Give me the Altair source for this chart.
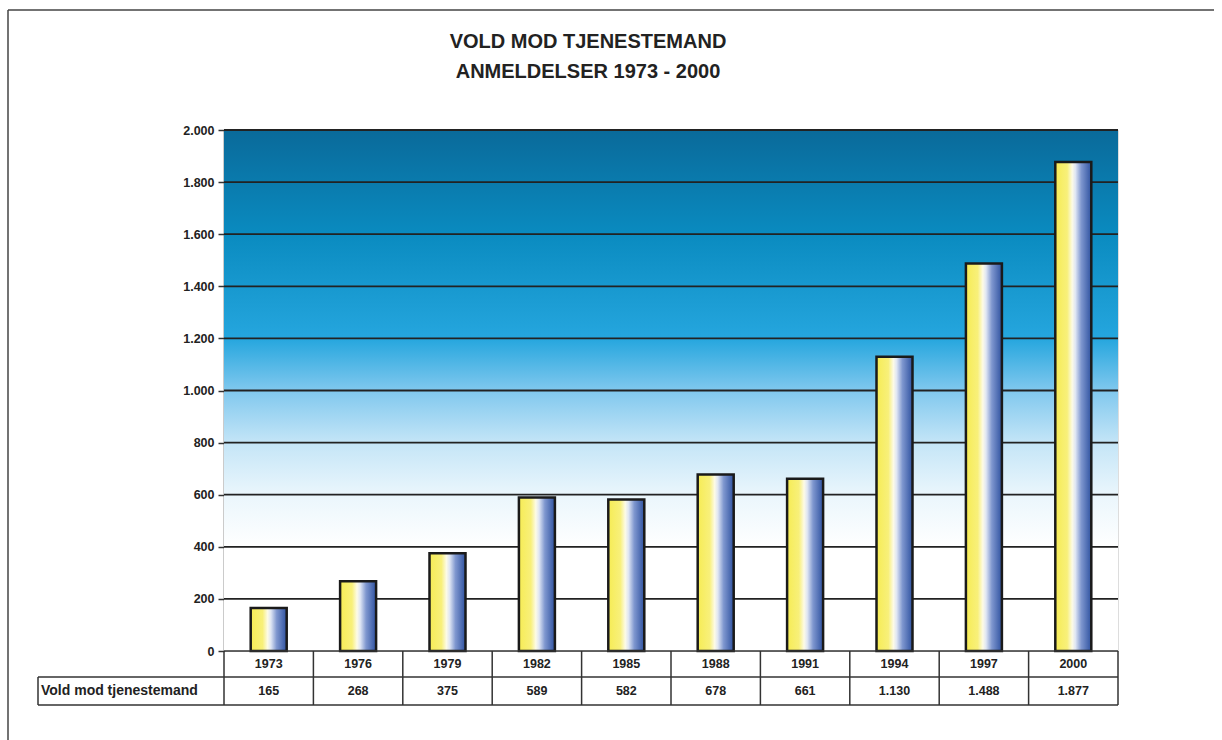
import altair as alt
import pandas as pd

years = ["1973", "1976", "1979", "1982", "1985", "1988", "1991", "1994", "1997", "2000"]
values = [165, 268, 375, 589, 582, 678, 661, 1130, 1488, 1877]
value_labels = ["165", "268", "375", "589", "582", "678", "661", "1.130", "1.488", "1.877"]
title_lines = ["VOLD MOD TJENESTEMAND", "ANMELDELSER 1973 - 2000"]
row_label = "Vold mod tjenestemand"
y_ticks = list(range(0, 2001, 200))

W, H = 894, 521
FONT = "Liberation Sans"

df = pd.DataFrame({"year": years, "value": values, "label": value_labels})

xs = alt.Scale(domain=years, paddingInner=0, paddingOuter=0)
ys = alt.Scale(domain=[0, 2000], nice=False)

y_axis = alt.Axis(
    values=y_ticks,
    labelExpr="replace(format(datum.value, ','), ',', '.')",
    grid=False, domainColor="#333", domainWidth=1.5,
    tickColor="#333", tickSize=6, tickWidth=1.5,
    labelFont=FONT, labelFontWeight="bold", labelFontSize=12.5,
    labelColor="#222", labelPadding=4, title=None,
)

bg_grad = alt.Gradient(
    gradient="linear", x1=0, y1=0, x2=0, y2=1,
    stops=[
        alt.GradientStop(color="#0a6a9a", offset=0),
        alt.GradientStop(color="#0a8bc0", offset=0.2),
        alt.GradientStop(color="#25a6de", offset=0.4),
        alt.GradientStop(color="#80c8ee", offset=0.5),
        alt.GradientStop(color="#c4e5f7", offset=0.6),
        alt.GradientStop(color="#eaf6fc", offset=0.7),
        alt.GradientStop(color="#ffffff", offset=0.8),
        alt.GradientStop(color="#ffffff", offset=1),
    ],
)

bar_grad = alt.Gradient(
    gradient="linear", x1=0, y1=0, x2=1, y2=0,
    stops=[
        alt.GradientStop(color="#f6ec55", offset=0),
        alt.GradientStop(color="#f8f07a", offset=0.33),
        alt.GradientStop(color="#fdfbe6", offset=0.47),
        alt.GradientStop(color="#dfe6f4", offset=0.56),
        alt.GradientStop(color="#7f97cf", offset=0.72),
        alt.GradientStop(color="#2f52a0", offset=1),
    ],
)

base = alt.Chart(df)
one = "datum.year == '1973'"

background = base.mark_rect(fill=bg_grad, strokeWidth=0).encode(
    x=alt.value(0), x2=alt.value(W), y=alt.value(0), y2=alt.value(H)
).transform_filter(one)

grid = alt.Chart(pd.DataFrame({"g": y_ticks[1:]})).mark_rule(
    color="#222", strokeWidth=1.8
).encode(y=alt.Y("g:Q", scale=ys, axis=y_axis), x=alt.value(0), x2=alt.value(W))

bars = base.mark_bar(fill=bar_grad, stroke="#1a1a1a", strokeWidth=2.5, size=36).encode(
    x=alt.X("year:N", scale=xs, axis=None, sort=years),
    y=alt.Y("value:Q", scale=ys, axis=y_axis),
)

# table
vlines = base.mark_rule(color="#333", strokeWidth=1.5).encode(
    x=alt.X("year:N", scale=xs, sort=years, bandPosition=0),
    y=alt.value(H), y2=alt.value(H + 54),
)
vlast = base.mark_rule(color="#333", strokeWidth=1.5).encode(
    x=alt.value(W), y=alt.value(H), y2=alt.value(H + 54)
).transform_filter(one)
hline1 = base.mark_rule(color="#333", strokeWidth=1.5).encode(
    x=alt.value(0), x2=alt.value(W), y=alt.value(H)
).transform_filter(one)
hline2 = base.mark_rule(color="#333", strokeWidth=1.5).encode(
    x=alt.value(-186), x2=alt.value(W), y=alt.value(H + 26)
).transform_filter(one)
hline3 = base.mark_rule(color="#333", strokeWidth=1.5).encode(
    x=alt.value(-186), x2=alt.value(W), y=alt.value(H + 54)
).transform_filter(one)
vleft = base.mark_rule(color="#333", strokeWidth=1.5).encode(
    x=alt.value(-186), y=alt.value(H + 26), y2=alt.value(H + 54)
).transform_filter(one)

year_text = base.mark_text(font=FONT, fontWeight="bold", fontSize=12.5, color="#222").encode(
    x=alt.X("year:N", scale=xs, sort=years, bandPosition=0.5),
    y=alt.value(H + 13), text="year:N",
)
val_text = base.mark_text(font=FONT, fontWeight="bold", fontSize=12.5, color="#222").encode(
    x=alt.X("year:N", scale=xs, sort=years, bandPosition=0.5),
    y=alt.value(H + 40), text="label:N",
)
row_text = base.mark_text(
    font=FONT, fontWeight="bold", fontSize=14, color="#222", align="left"
).encode(x=alt.value(-183), y=alt.value(H + 40), text=alt.value(row_label)).transform_filter(one)

titles = alt.Chart(pd.DataFrame({"t": title_lines, "yy": [-88, -58]})).mark_text(
    font=FONT, fontWeight="bold", fontSize=20, color="#222"
).encode(x=alt.value(364), y=alt.Y("yy:Q", scale=None), text="t:N")

frame_top = base.mark_rule(color="#444", strokeWidth=1.5).encode(
    x=alt.value(-216), x2=alt.value(990), y=alt.value(-120)
).transform_filter(one)
frame_left = base.mark_rule(color="#444", strokeWidth=1.5).encode(
    x=alt.value(-216), y=alt.value(-120), y2=alt.value(620)
).transform_filter(one)

chart = alt.layer(
    background, grid, bars, vlines, vlast, hline1, hline2, hline3, vleft,
    year_text, val_text, row_text, titles, frame_top, frame_left,
).properties(
    width=W, height=H,
    autosize=alt.AutoSizeParams(type="none"),
    padding={"left": 224, "top": 130, "right": 104, "bottom": 89},
).configure_view(stroke=None).configure(background="white")

chart.save("out.html", embed_options={"renderer": "svg", "actions": False})
